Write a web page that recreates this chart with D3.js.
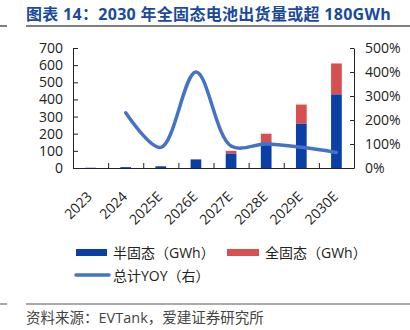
<!DOCTYPE html>
<html><head><meta charset="utf-8">
<script src="https://cdn.jsdelivr.net/npm/d3@7"></script>
<style>
body{margin:0;background:#fff;}
svg text{font-family:"Open Sans","Noto Sans CJK SC",sans-serif;}
</style></head>
<body><div id="chart"></div>
<script>
const categories = ["2023","2024","2025E","2026E","2027E","2028E","2029E","2030E"];
const semiSolid = [1.5, 5, 10, 50, 85, 150, 260, 430];
const allSolid = [0, 0, 0, 2, 15, 50, 110, 180];
const yoy = [null, 2.3, 0.86, 4.0, 0.92, 1.0, 0.86, 0.65];
const leftTicks = [0,100,200,300,400,500,600,700];
const rightTicks = [0,1,2,3,4,5];
const titleText = "图表 14：2030 年全固态电池出货量或超 180GWh";
const sourceText = "资料来源：EVTank，爱建证券研究所";
const legendNames = ["半固态（GWh）","全固态（GWh）","总计YOY（右）"];

const W=410,H=330;
const svg=d3.select("#chart").append("svg").attr("width",W).attr("height",H);
const X0=73,X1=354,YT=48,YB=168;
const x=d3.scaleBand().domain(categories).range([X0,X1]).padding(0);
const yL=d3.scaleLinear().domain([0,700]).range([YB,YT]);
const yR=d3.scaleLinear().domain([0,5]).range([YB,YT]);
const blue="#0a3fa5", red="#d6504f", lineC="#4472c4", axisC="#222";

// title
svg.append("text").attr("x",26).attr("y",20).attr("font-size",16).attr("font-weight","bold")
  .attr("letter-spacing","0.3px").attr("fill","#1a4a9c").text(titleText);
svg.append("line").attr("x1",26).attr("x2",410).attr("y1",26).attr("y2",26).attr("stroke","#555").attr("stroke-width",1.5);
svg.append("line").attr("x1",0).attr("x2",7).attr("y1",26).attr("y2",26).attr("stroke","#555").attr("stroke-width",1.5);

// bars
const bw=10.7;
const g=svg.append("g");
g.selectAll("rect.semi").data(categories).join("rect")
  .attr("x",d=>x(d)+x.bandwidth()/2-bw/2).attr("width",bw)
  .attr("y",(d,i)=>yL(semiSolid[i])).attr("height",(d,i)=>YB-yL(semiSolid[i])).attr("fill",blue);
g.selectAll("rect.all").data(categories).join("rect")
  .attr("x",d=>x(d)+x.bandwidth()/2-bw/2).attr("width",bw)
  .attr("y",(d,i)=>yL(semiSolid[i]+allSolid[i])).attr("height",(d,i)=>yL(semiSolid[i])-yL(semiSolid[i]+allSolid[i])).attr("fill",red);

// line
const pts=categories.map((c,i)=>[x(c)+x.bandwidth()/2, yoy[i]]).filter(p=>p[1]!=null);
svg.append("path").attr("d",d3.line().x(p=>p[0]).y(p=>yR(p[1])).curve(d3.curveCatmullRom.alpha(0.5))(pts))
  .attr("fill","none").attr("stroke",lineC).attr("stroke-width",3.5).attr("stroke-linecap","round");

// axes
const fs=14;
const aL=svg.append("g").attr("transform",`translate(${X0},0)`)
  .call(d3.axisLeft(yL).tickValues(leftTicks).tickSizeInner(-5).tickSizeOuter(0).tickPadding(10));
const aR=svg.append("g").attr("transform",`translate(${X1},0)`)
  .call(d3.axisRight(yR).tickValues(rightTicks).tickFormat(d=>d*100+"%").tickSizeInner(-4).tickSizeOuter(0).tickPadding(11));
const idx=d3.scaleLinear().domain([0,categories.length]).range([X0,X1]);
const aB=svg.append("g").attr("transform",`translate(0,${YB})`)
  .call(d3.axisBottom(idx).tickValues(d3.range(1,categories.length)).tickSizeInner(-5).tickSizeOuter(0).tickFormat(""));
const aX=svg.append("g").attr("transform",`translate(0,${YB})`)
  .call(d3.axisBottom(x).tickSize(0).tickPadding(0));
aX.select(".domain").remove();
aX.selectAll("text").attr("text-anchor","end").attr("dy","0.35em")
  .attr("transform","translate(-1,26) rotate(-45)");
[aL,aR,aB,aX].forEach(a=>{
  a.selectAll("text").attr("font-size",fs).attr("fill","#222").attr("font-family",null);
  a.selectAll("line").attr("stroke",axisC);
  a.select(".domain").attr("stroke",axisC);
});
aB.selectAll("text").remove();

// legend
const lg=svg.append("g");
lg.append("rect").attr("x",76).attr("y",249).attr("width",31).attr("height",7).attr("fill",blue);
lg.append("text").attr("x",113).attr("y",253).attr("dy","0.35em").attr("font-size",14).attr("fill","#222").text(legendNames[0]);
lg.append("rect").attr("x",227).attr("y",249).attr("width",32).attr("height",7).attr("fill",red);
lg.append("text").attr("x",265).attr("y",253).attr("dy","0.35em").attr("font-size",14).attr("fill","#222").text(legendNames[1]);
lg.append("line").attr("x1",76).attr("x2",109).attr("y1",275).attr("y2",275).attr("stroke",lineC).attr("stroke-width",3.5).attr("stroke-linecap","round");
lg.append("text").attr("x",113).attr("y",276).attr("dy","0.35em").attr("font-size",14).attr("fill","#222").text(legendNames[2]);

// source
svg.append("line").attr("x1",26).attr("x2",410).attr("y1",304).attr("y2",304).attr("stroke","#555").attr("stroke-width",1);
svg.append("line").attr("x1",0).attr("x2",7).attr("y1",304).attr("y2",304).attr("stroke","#555").attr("stroke-width",1);
svg.append("text").attr("x",26).attr("y",318).attr("dy","0.35em").attr("font-size",14.5).attr("fill","#444").text(sourceText);
</script></body></html>
